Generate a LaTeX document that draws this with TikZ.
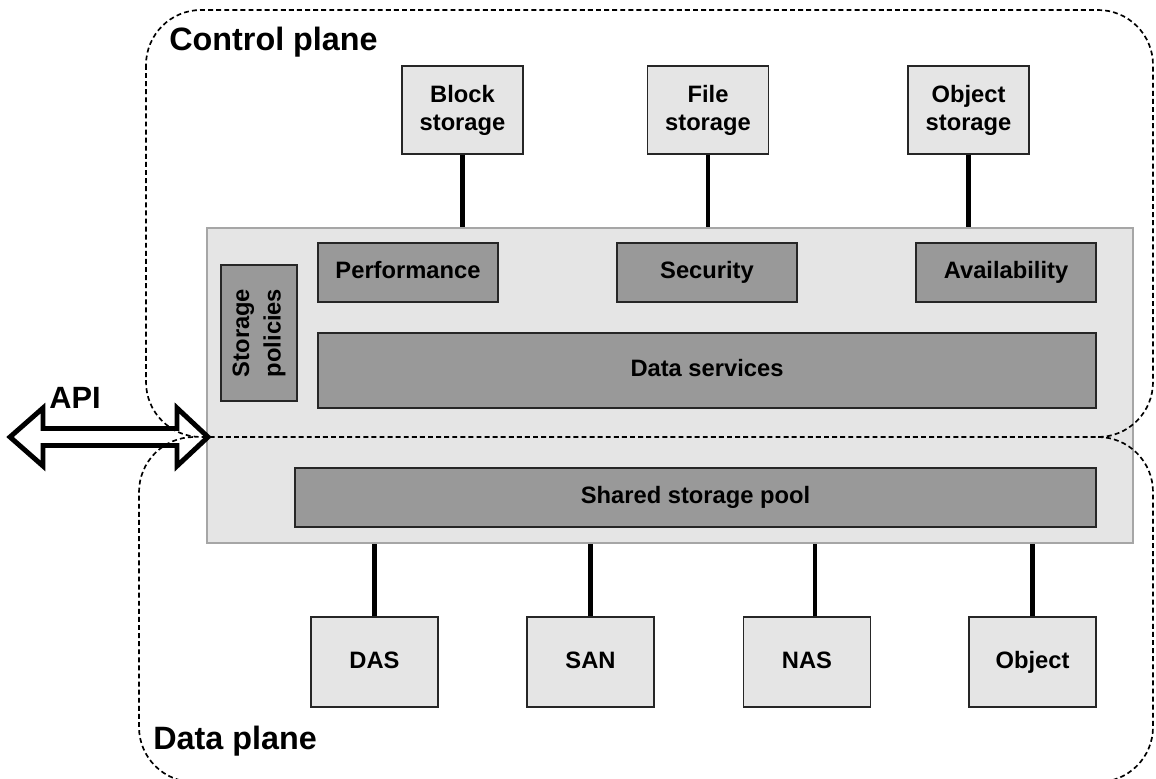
\documentclass[tikz,border=0pt]{standalone}
\usepackage{fontspec}
\setmainfont{Liberation Sans}
\usetikzlibrary{positioning}

\tikzset{
  lightbox/.style={draw=black!85, fill=black!10, line width=0.8pt, inner sep=0pt,
    minimum width=2.42cm, minimum height=1.76cm, align=center,
    font=\fontsize{13.5}{16}\selectfont\bfseries},
  darkbox/.style={draw=black!85, fill=black!40, line width=0.8pt, inner sep=0pt,
    minimum width=3.6cm, minimum height=1.18cm, align=center,
    font=\fontsize{13.5}{16}\selectfont\bfseries},
  oneline/.style={text height=1.36ex, text depth=0pt},
  panelbox/.style={draw=black!35, fill=black!10, line width=0.8pt, inner sep=0pt},
  wire/.style={line width=2.3pt},
  plane/.style={dash pattern=on 2.8pt off 1.8pt, line width=0.95pt, rounded corners=1.1cm},
  title/.style={anchor=west, inner sep=0pt, font=\fontsize{18.4}{22}\selectfont\bfseries}
}

\begin{document}
\begin{tikzpicture}[x=0.02cm, y=-0.02cm]
\useasboundingbox (0,0) rectangle (1156,778);

% storage types on top
\node[lightbox] (block) at (462.5,110) {Block\\storage};
\node[lightbox] (file) at (708,110) {File\\storage};
\node[lightbox] (object) at (968.5,110) {Object\\storage};

% the big panel
\node[panelbox, minimum width=18.52cm, minimum height=6.3cm] (panel) at (670,385.5) {};

\node[darkbox, oneline] (perf) at (408,272.5) {Performance};
\node[darkbox, oneline] (sec) at (707,272.5) {Security};
\node[darkbox, oneline] (avail) at (1006,272.5) {Availability};
\node[darkbox, rotate=90, minimum width=2.72cm, minimum height=1.52cm] (policies) at (259,333) {Storage\\[2pt]policies};
\node[darkbox, oneline, minimum width=15.56cm, minimum height=1.5cm] (dataserv) at (707,370.5) {Data services};
\node[darkbox, oneline, minimum width=16.02cm] (pool) at (695.5,497.5) {Shared storage pool};

% back ends
\node[lightbox, oneline, minimum width=2.54cm, minimum height=1.8cm] (das) at (374.5,662) {DAS};
\node[lightbox, oneline, minimum width=2.54cm, minimum height=1.8cm] (san) at (590.5,662) {SAN};
\node[lightbox, oneline, minimum width=2.54cm, minimum height=1.8cm] (nas) at (807,662) {NAS};
\node[lightbox, oneline, minimum width=2.54cm, minimum height=1.8cm] (obj) at (1032.5,662) {Object};

\foreach \n in {block,file,object}
  \draw[wire] (\n.south) -- (\n.south |- panel.north);
\foreach \n in {das,san,obj}
  \draw[wire] (\n.north) -- (\n.north |- panel.south);
\draw[wire] ([xshift=0.16cm]nas.north) -- ([xshift=0.16cm]nas.north |- panel.south);

% API arrow
\draw[line width=2.8pt, fill=white, line join=miter]
  (10,437) -- (43,408) -- (43,428.5) -- (177,428.5) -- (177,408) -- (208,437)
  -- (177,466) -- (177,445.5) -- (43,445.5) -- (43,466) -- cycle;
\node[inner sep=0pt, font=\fontsize{17.5}{20}\selectfont\bfseries] (api) at (75,398) {API};

% planes
\draw[plane] (146,10) rectangle (1153,437);
\draw[plane] (1098,437) -- (1153,437) -- (1153,782) -- (139,782) -- (139,437) -- (194,437);
\node[title] (ctrl) at (169,42) {Control plane};
\node[title] (data) at (153,741) {Data plane};
\end{tikzpicture}
\end{document}
